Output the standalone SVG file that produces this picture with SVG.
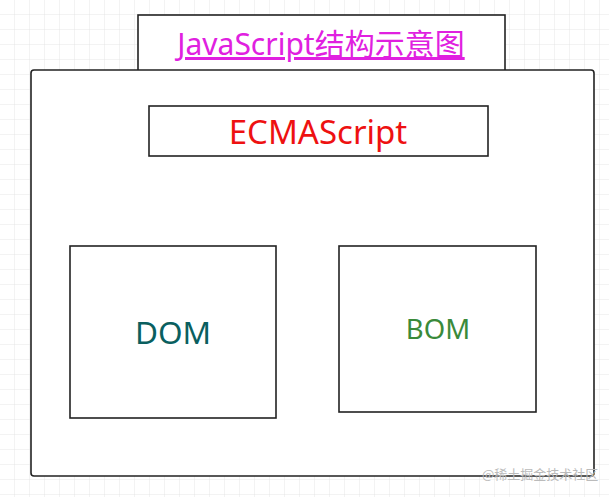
<svg xmlns="http://www.w3.org/2000/svg" width="609" height="497" viewBox="0 0 609 497">
<defs><pattern id="g" width="15" height="15" patternUnits="userSpaceOnUse"><path d="M15 0V15H0" fill="none" stroke="#e6e6e6" stroke-width="1"/></pattern></defs>
<style>.b{fill:#fff;stroke:#222;stroke-width:1.6}.t{font-family:"Noto Sans","Noto Sans CJK SC",sans-serif;text-anchor:middle}</style>
<rect width="609" height="497" fill="#fff"/><rect width="609" height="497" fill="url(#g)"/>
<g id="title"><rect class="b" x="138" y="15" width="367" height="56"/><text class="t" x="321" y="55" font-size="30" fill="#e020e0" text-decoration="underline">JavaScript结构示意图</text></g>
<g id="outer"><rect class="b" x="31" y="70" width="563" height="406" rx="3"/></g>
<g id="ecma"><rect class="b" x="149" y="106" width="339" height="50"/><text class="t" x="318" y="144" font-size="33" fill="#ee1111">ECMAScript</text></g>
<g id="dom"><rect class="b" x="70" y="246" width="206" height="172"/><text class="t" x="173" y="344" font-size="31.5" fill="#0a5f5f">DOM</text></g>
<g id="bom"><rect class="b" x="339" y="246" width="197" height="166"/><text class="t" x="438" y="339" font-size="27.5" fill="#3a8a3a">BOM</text></g>
<g id="connectors"/>
<text x="482" y="479" font-family="Noto Sans CJK SC,sans-serif" font-size="13" fill="#bbb">@稀土掘金技术社区</text>
</svg>
